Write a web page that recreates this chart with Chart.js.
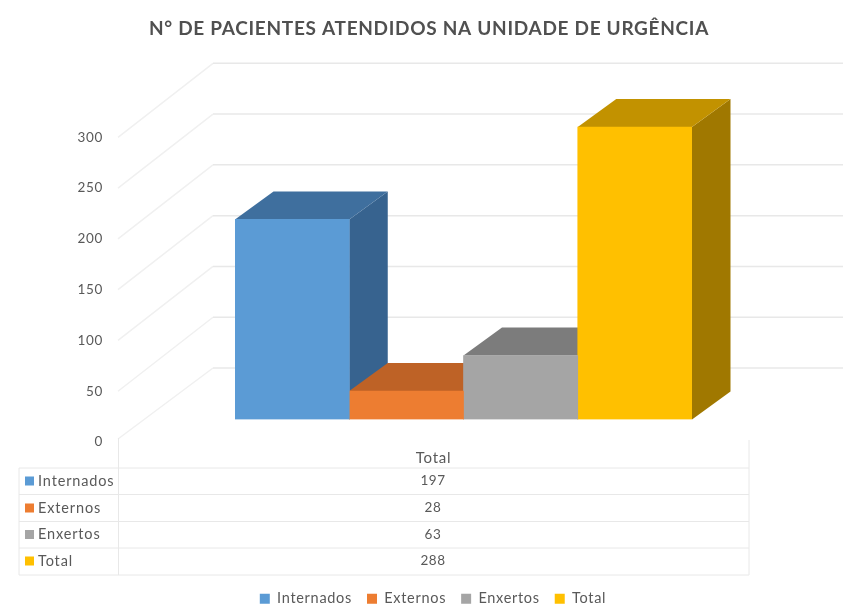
<!DOCTYPE html>
<html><head><meta charset="utf-8">
<style>html,body{margin:0;padding:0;background:#fff}canvas{display:block;filter:blur(.7px)}</style>
<script src="https://cdn.jsdelivr.net/npm/chart.js@4"></script>
</head><body>
<canvas id="c" width="850" height="608" style="width:850px;height:608px"></canvas>
<script>
const titleText = "N° DE PACIENTES ATENDIDOS NA UNIDADE DE URGÊNCIA";
const categories = ["Total"];
const seriesNames = ["Internados","Externos","Enxertos","Total"];
const internados = [197];
const externos = [28];
const enxertos = [63];
const totalSerie = [288];
const seriesValues = [internados,externos,enxertos,totalSerie];
const frontColors = ["#5B9BD5","#ED7D31","#A5A5A5","#FFC000"];
const topColors = ["#3F6F9E","#BE6226","#7C7C7C","#C29200"];
const sideColors = ["#37638F","#A5561F","#6E6E6E","#A07800"];
const yMax = 300, yStep = 50;

const FONT = "Lato, Carlito, sans-serif", TXT = "#595959", SP = "0.7px";
const DX = 38.5, DY = 28;          // bar depth
const WX = 95, WY = 74, LAB = 22.5; // wall depth, label shift

const threeD = {
  id:'threeD',
  beforeLayout(c){ c.ctx.letterSpacing = SP; },
  afterLayout(c){ c.legend.left+=4; c.legend.right+=4; },
  beforeDraw(c){ c.ctx.letterSpacing = SP; },
  beforeDatasetsDraw(c){
    const ctx=c.ctx, y=c.scales.y;
    ctx.save();
    ctx.lineWidth=1.5;
    y.ticks.forEach(t=>{
      const py=y.getPixelForValue(t.value)+LAB, x0=118;
      ctx.strokeStyle="#f0f0f0";
      ctx.beginPath();
      ctx.moveTo(x0,py-(t.value===0?3:0));
      ctx.lineTo(x0+WX,py-WY);
      ctx.stroke();
      ctx.strokeStyle="#e8e8e8";
      ctx.beginPath();
      ctx.moveTo(x0+WX,py-WY);
      ctx.lineTo(843,py-WY);
      ctx.stroke();
    });
    seriesNames.forEach((n,i)=>{
      const bar=c.getDatasetMeta(i).data[0];
      const L=bar.x-bar.width/2, R=bar.x+bar.width/2, T=bar.y, B=bar.base;
      ctx.fillStyle=sideColors[i];
      ctx.beginPath();ctx.moveTo(R,T);ctx.lineTo(R+DX,T-DY);ctx.lineTo(R+DX,B-DY);ctx.lineTo(R,B);ctx.closePath();ctx.fill();
      ctx.fillStyle=topColors[i];
      ctx.beginPath();ctx.moveTo(L,T);ctx.lineTo(L+DX,T-DY);ctx.lineTo(R+DX,T-DY);ctx.lineTo(R,T);ctx.closePath();ctx.fill();
    });
    ctx.restore();
  },
  afterDraw(c){
    const ctx=c.ctx;
    ctx.save();
    ctx.strokeStyle="#e8e8e8"; ctx.lineWidth=1;
    const rows=[468,494.5,521.5,548,575], xL=19, xA=118.5, xR=749;
    rows.forEach(ry=>{ctx.beginPath();ctx.moveTo(xL,ry);ctx.lineTo(xR,ry);ctx.stroke();});
    [[xL,468],[xA,438],[xR,440]].forEach(([x,t])=>{ctx.beginPath();ctx.moveTo(x,t);ctx.lineTo(x,575);ctx.stroke();});
    ctx.fillStyle=TXT; ctx.textBaseline="middle";
    const cy=[481,508,534.5,561];
    seriesNames.forEach((n,i)=>{
      ctx.fillStyle=frontColors[i];
      ctx.fillRect(25,cy[i]-4.5,9,9);
      ctx.fillStyle=TXT;
      ctx.textAlign="left";
      ctx.letterSpacing="0.85px"; ctx.font="14.5px "+FONT;
      ctx.fillText(n,38,cy[i]);
      ctx.textAlign="center";
      ctx.letterSpacing="0.55px"; ctx.font="13.5px "+FONT;
      ctx.fillText(String(seriesValues[i][0]),433,cy[i]);
    });
    ctx.restore();
  }
};

new Chart(document.getElementById('c'),{
  type:'bar',
  data:{labels:categories,datasets:seriesNames.map((n,i)=>({
    label:n,data:seriesValues[i],backgroundColor:frontColors[i],
    barPercentage:1,categoryPercentage:1,borderWidth:0
  }))},
  plugins:[threeD],
  options:{
    responsive:false,animation:false,devicePixelRatio:1,
    layout:{autoPadding:false,padding:{left:8,right:0,top:0,bottom:-8}},
    plugins:{
      tooltip:{enabled:false},
      title:{display:true,text:titleText,color:"#505050",
        font:{family:FONT,size:19,weight:'bold',lineHeight:1.2},padding:{top:17,bottom:75}},
      legend:{position:'bottom',onClick:null,
        labels:{color:TXT,font:{family:FONT,size:14.5},boxWidth:10,boxHeight:10,padding:15}}
    },
    scales:{
      x:{grid:{display:false,drawTicks:false},border:{display:false},
        ticks:{color:TXT,font:{family:FONT,size:15},padding:30,labelOffset:-30},
        afterFit(s){s.height=608-419-32;}},
      y:{min:0,max:yMax,position:'left',grid:{display:false,drawTicks:false},border:{display:false},
        ticks:{stepSize:yStep,color:TXT,font:{family:FONT,size:13.5},padding:132,labelOffset:22.5},
        afterFit(s){s.width=227;s.paddingTop=0;s.paddingBottom=0;}},
      yR:{position:'right',min:0,max:1,grid:{display:false,drawTicks:false},border:{display:false},
        ticks:{display:false},afterFit(s){s.width=158;s.paddingTop=0;s.paddingBottom=0;}}
    }
  }
});
</script>
</body></html>
